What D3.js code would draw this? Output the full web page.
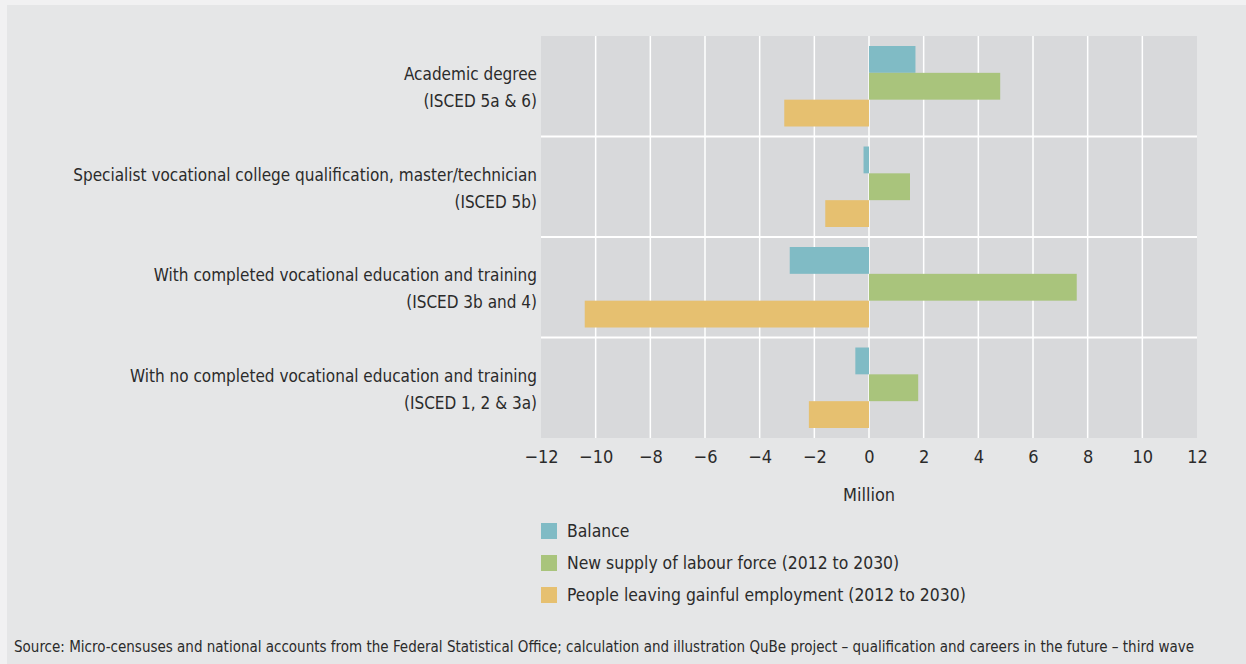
<!DOCTYPE html>
<html>
<head>
<meta charset="utf-8">
<script src="https://cdn.jsdelivr.net/npm/d3@7"></script>
<style>
  html, body { margin: 0; padding: 0; background: #f1f1f2; }
  svg { display: block; }
  text { font-family: "Liberation Sans Narrow", "DejaVu Sans Condensed", "Noto Sans", sans-serif; fill: #2b2b2b; }
</style>
</head>
<body>
<svg id="chart" width="1246" height="664"></svg>
<script>
// Education levels (two-line labels), top to bottom
const categories = [
  ["Academic degree", "(ISCED 5a & 6)"],
  ["Specialist vocational college qualification, master/technician", "(ISCED 5b)"],
  ["With completed vocational education and training", "(ISCED 3b and 4)"],
  ["With no completed vocational education and training", "(ISCED 1, 2 & 3a)"]
];
const seriesNames = [
  "Balance",
  "New supply of labour force (2012 to 2030)",
  "People leaving gainful employment (2012 to 2030)"
];
// Millions of people, per category
const balance = [1.7, -0.2, -2.9, -0.5];
const newSupply = [4.8, 1.5, 7.6, 1.8];
const leaving = [-3.1, -1.6, -10.4, -2.2];
const tickValues = [-12, -10, -8, -6, -4, -2, 0, 2, 4, 6, 8, 10, 12];
const axisTitle = "Million";
const sourceNote = "Source: Micro-censuses and national accounts from the Federal Statistical Office; calculation and illustration QuBe project \u2013 qualification and careers in the future \u2013 third wave";

const colors = ["#80bbc5", "#a9c47c", "#e6c070"];
const series = [balance, newSupply, leaving];

const svg = d3.select("#chart");
const W = 1246, H = 664;

// panel background
svg.append("rect").attr("x", 7).attr("y", 5).attr("width", W - 7).attr("height", H - 5).attr("fill", "#e5e6e7");

const plot = { left: 541, right: 1197, top: 36, bottom: 438 };

const x = d3.scaleLinear().domain([-12, 12]).range([plot.left, plot.right]);
const y0 = d3.scaleBand().domain(d3.range(categories.length)).range([plot.top, plot.bottom]);
const y1 = d3.scaleBand().domain(d3.range(series.length))
  .range([10, y0.bandwidth() - 10]).paddingInner(0).paddingOuter(0);

// plot background
svg.append("rect")
  .attr("x", plot.left).attr("y", plot.top)
  .attr("width", plot.right - plot.left).attr("height", plot.bottom - plot.top)
  .attr("fill", "#d8d9db");

// vertical grid lines
svg.append("g").selectAll("line")
  .data(tickValues.filter(t => t > -12 && t < 12))
  .join("line")
  .attr("x1", d => x(d)).attr("x2", d => x(d))
  .attr("y1", plot.top).attr("y2", plot.bottom)
  .attr("stroke", "#ffffff").attr("stroke-width", 1.5);

// category separators
svg.append("g").selectAll("line")
  .data(d3.range(1, categories.length))
  .join("line")
  .attr("x1", plot.left).attr("x2", plot.right)
  .attr("y1", d => y0(d)).attr("y2", d => y0(d))
  .attr("stroke", "#ffffff").attr("stroke-width", 2);

// bars
const groups = svg.append("g").selectAll("g")
  .data(categories.map((c, i) => i))
  .join("g")
  .attr("transform", i => `translate(0,${y0(i)})`);

groups.selectAll("rect")
  .data(i => series.map((s, k) => ({ k, v: s[i] })))
  .join("rect")
  .attr("x", d => x(Math.min(0, d.v)))
  .attr("width", d => Math.abs(x(d.v) - x(0)))
  .attr("y", d => y1(d.k))
  .attr("height", y1.bandwidth())
  .attr("fill", d => colors[d.k]);

// category labels
const labels = svg.append("g").selectAll("text")
  .data(categories)
  .join("text")
  .attr("text-anchor", "end")
  .attr("font-size", 17)
  .attr("transform", (d, i) => `translate(537,${y0(i) + y0.bandwidth() / 2})`);
labels.append("tspan").attr("x", 0).attr("y", -6).text(d => d[0]);
labels.append("tspan").attr("x", 0).attr("y", 21).text(d => d[1]);

// x axis
const xAxis = d3.axisBottom(x).tickValues(tickValues).tickSize(0).tickPadding(12)
  .tickFormat(d => d < 0 ? "\u2212" + Math.abs(d) : String(d));
const gx = svg.append("g").attr("transform", `translate(0,${plot.bottom})`).call(xAxis);
gx.select(".domain").remove();
gx.selectAll("text")
  .attr("font-size", 18)
  .style("font-family", "'Liberation Sans Narrow', 'DejaVu Sans Condensed', sans-serif")
  .attr("fill", "#2b2b2b");

svg.append("text")
  .attr("x", x(0)).attr("y", 501)
  .attr("text-anchor", "middle")
  .attr("font-size", 18)
  .text(axisTitle);

// legend
const legend = svg.append("g").selectAll("g")
  .data(seriesNames)
  .join("g")
  .attr("transform", (d, i) => `translate(541,${523 + i * 32})`);
legend.append("rect").attr("width", 16).attr("height", 16).attr("fill", (d, i) => colors[i]);
legend.append("text").attr("x", 26).attr("y", 14).attr("font-size", 17.4).text(d => d);

// source note
svg.append("text")
  .attr("x", 14).attr("y", 652)
  .attr("font-size", 15)
  .text(sourceNote);
</script>
</body>
</html>
